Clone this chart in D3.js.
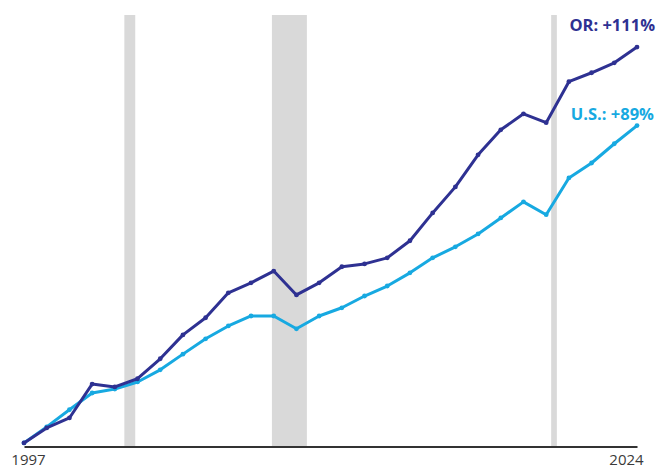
<!DOCTYPE html>
<html>
<head>
<meta charset="utf-8">
<script src="https://cdn.jsdelivr.net/npm/d3@7"></script>
<style>
  body { margin: 0; background: #fff; }
  svg { display: block; font-family: 'Open Sans', sans-serif; }
</style>
</head>
<body>
<svg id="chart" width="664" height="471"></svg>
<script>
// cumulative growth since 1997, percent
const years = d3.range(1997, 2025)
const orValues = [0, 4.2, 7.0, 16.5, 15.7, 18.0, 23.6, 30.3, 35.1, 42.1, 44.9, 48.2, 41.5, 44.9,
  49.4, 50.2, 51.9, 56.7, 64.5, 71.8, 80.8, 87.8, 92.3, 89.8, 101.3, 103.8, 106.6, 111]
const usValues = [0, 4.5, 9.3, 14.0, 15.1, 17.1, 20.5, 24.9, 29.2, 32.8, 35.6, 35.6, 32.0, 35.6,
  37.9, 41.2, 44.0, 47.7, 51.9, 55.0, 58.6, 63.1, 67.6, 64.0, 74.3, 78.5, 83.9, 89]
// recessions as fractional years
const recessions = [[2001.42, 2001.9], [2007.92, 2009.46], [2020.22, 2020.47]]
const tickYears = [1997, 2024]
const labels = ['OR: +111%', 'U.S.: +89%']

const OR_COLOR = '#2e3192'
const US_COLOR = '#17a9e1'

const svg = d3.select('#chart')

const x = d3.scaleLinear().domain([1997, 2024]).range([24, 637])
const y = d3.scaleLinear().domain([-1, 120]).range([446.5, 15])

// recession bands
svg.append('g')
  .selectAll('rect')
  .data(recessions)
  .join('rect')
  .attr('x', (d) => x(d[0]))
  .attr('width', (d) => x(d[1]) - x(d[0]))
  .attr('y', y(120))
  .attr('height', y(-1) - y(120))
  .attr('fill', '#d9d9d9')

// baseline axis
const axis = svg.append('g')
  .attr('transform', `translate(0, ${y(-1)})`)
  .call(d3.axisBottom(x).tickValues(tickYears).tickFormat(d3.format('d')).tickSize(0).tickPadding(8))
axis.select('.domain').attr('stroke', '#333').attr('stroke-width', 2)
axis.selectAll('text')
  .attr('font-size', 15)
  .attr('fill', '#3a3a3a')
  .attr('font-family', "'Open Sans', sans-serif")
  .attr('dx', (d) => (d === 1997 ? 4 : -11))

const line = d3.line()
  .x((d, i) => x(years[i]))
  .y((d) => y(d))

function drawSeries(values, color) {
  svg.append('path')
    .datum(values)
    .attr('fill', 'none')
    .attr('stroke', color)
    .attr('stroke-width', 3)
    .attr('stroke-linejoin', 'round')
    .attr('d', line)

  svg.append('g')
    .selectAll('circle')
    .data(values)
    .join('circle')
    .attr('cx', (d, i) => x(years[i]))
    .attr('cy', (d) => y(d))
    .attr('r', 2.4)
    .attr('fill', color)
}

drawSeries(usValues, US_COLOR)
drawSeries(orValues, OR_COLOR)

// end labels
svg.append('text')
  .attr('x', 655)
  .attr('y', y(orValues[orValues.length - 1]) - 16)
  .attr('text-anchor', 'end')
  .attr('font-size', 16.5)
  .attr('font-weight', 'bold')
  .attr('fill', OR_COLOR)
  .text(labels[0])

svg.append('text')
  .attr('x', 654)
  .attr('y', y(usValues[usValues.length - 1]) - 6)
  .attr('text-anchor', 'end')
  .attr('font-size', 16.5)
  .attr('font-weight', 'bold')
  .attr('fill', US_COLOR)
  .text(labels[1])
</script>
</body>
</html>
